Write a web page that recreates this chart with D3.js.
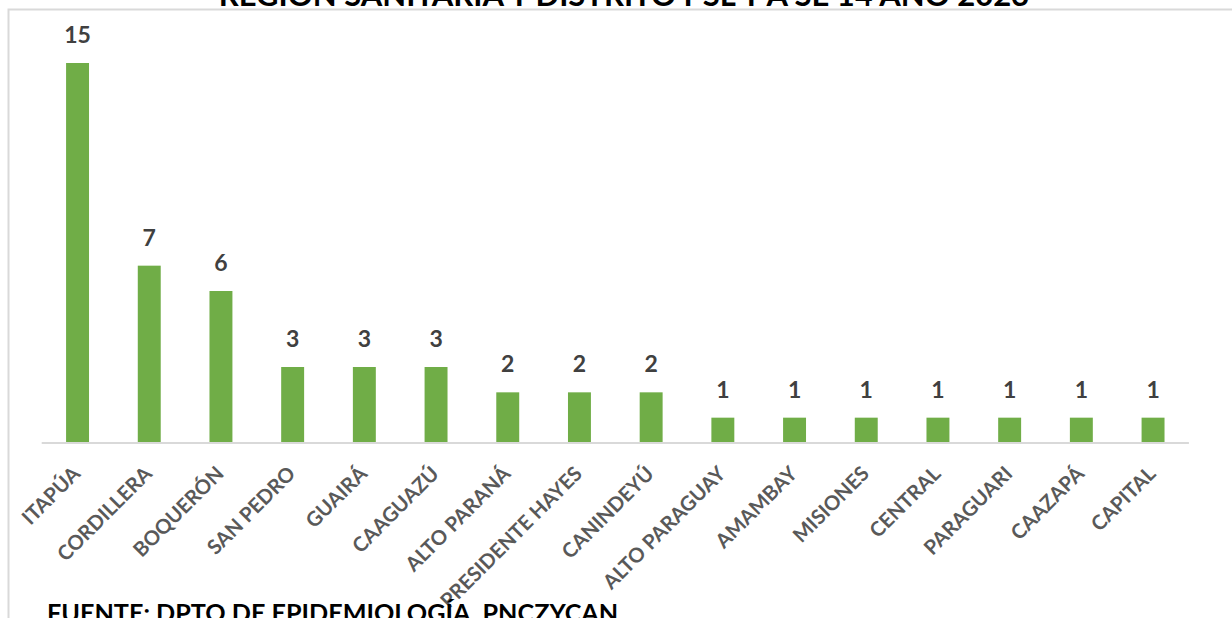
<!DOCTYPE html>
<html><head><meta charset="utf-8">
<script src="https://cdn.jsdelivr.net/npm/d3@7/dist/d3.min.js"></script>
<style>body{margin:0;background:#fff}svg{display:block}</style>
</head><body>
<script>
const categories = ["ITAPÚA","CORDILLERA","BOQUERÓN","SAN PEDRO","GUAIRÁ","CAAGUAZÚ","ALTO PARANÁ","PRESIDENTE HAYES","CANINDEYÚ","ALTO PARAGUAY","AMAMBAY","MISIONES","CENTRAL","PARAGUARI","CAAZAPÁ","CAPITAL"];
const values = [15,7,6,3,3,3,2,2,2,1,1,1,1,1,1,1];
const titleText = "REGION SANITARIA Y DISTRITO PSL Y A SE 14 AÑO 2023";
const footerText = "FUENTE: DPTO DE EPIDEMIOLOGÍA. PNCZYCAN";

const W = 1232, H = 618;
const svg = d3.select("body").append("svg").attr("width", W).attr("height", H);

// frame
svg.append("path").attr("d", `M8.5,${H+2}V9.5H${W+2}`).attr("fill","none").attr("stroke","#d9d9d9").attr("stroke-width",2);

const x = d3.scaleBand().domain(categories).range([41.7, 1188.9]).paddingInner(0.68).paddingOuter(0.34);
const y = d3.scaleLinear().domain([0, 15]).range([443, 63]);

// bars
svg.selectAll("rect.bar").data(values).join("rect")
  .attr("class","bar")
  .attr("x", (d,i) => x(categories[i]))
  .attr("width", x.bandwidth())
  .attr("y", d => y(d))
  .attr("height", d => y(0) - y(d))
  .attr("fill", "#70ad47");

// axis
const xAxis = d3.axisBottom(x).tickSize(0).tickPadding(0);
const gx = svg.append("g").attr("transform","translate(0,443)").call(xAxis);
gx.select(".domain").attr("stroke","#d9d9d9").attr("stroke-width",2)
  .attr("d", `M41.7,0H1188.9`);
gx.selectAll(".tick text")
  .attr("font-family","Lato, 'Open Sans', sans-serif")
  .attr("font-size", 20.3)
  .attr("font-weight", 700)
  .attr("fill", "#595959")
  .attr("text-anchor","end")
  .attr("dy", null).attr("y", null)
  .attr("transform","translate(4,32) rotate(-45)");

// value labels
svg.selectAll("text.val").data(values).join("text")
  .attr("class","val")
  .attr("x", (d,i) => x(categories[i]) + x.bandwidth()/2)
  .attr("y", d => y(d) - 20)
  .attr("text-anchor","middle")
  .attr("font-family","Lato, 'Open Sans', sans-serif")
  .attr("font-size", 23)
  .attr("font-weight", 700)
  .attr("fill", "#404040")
  .text(d => d);

// title (cut at top, as in reference)
svg.append("text").attr("x", 624).attr("y", 6)
  .attr("text-anchor","middle")
  .attr("font-family","Lato, 'Open Sans', sans-serif")
  .attr("font-size", 31).attr("font-weight", 700).attr("fill","#000")
  .text(titleText);

// footer
svg.append("text").attr("x", 47).attr("y", 622)
  .attr("font-family","Lato, 'Open Sans', sans-serif")
  .attr("font-size", 25.2).attr("font-weight", 700).attr("fill","#000")
  .text(footerText);
</script>
</body></html>
